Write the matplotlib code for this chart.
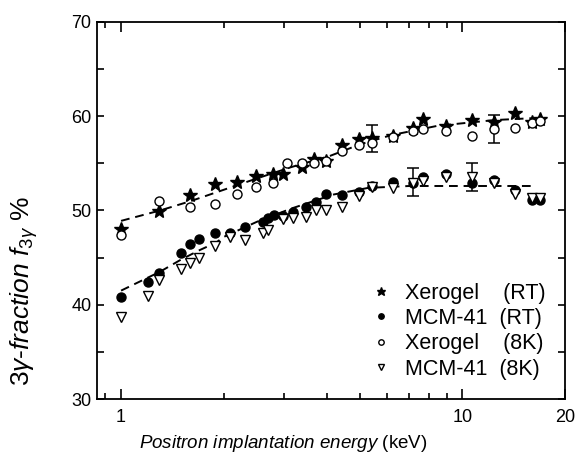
import numpy as np
import matplotlib
matplotlib.use('Agg')
import matplotlib.pyplot as plt

plt.rcParams['font.family'] = ['Liberation Sans', 'DejaVu Sans']
plt.rcParams['mathtext.fontset'] = 'custom'
plt.rcParams['mathtext.rm'] = 'Liberation Sans'
plt.rcParams['mathtext.it'] = 'Liberation Sans:italic'
plt.rcParams['mathtext.bf'] = 'Liberation Sans:bold'

# Xerogel (RT) - stars
xero_rt_x = [1.0, 1.295, 1.595, 1.888, 2.19, 2.48, 2.78, 2.99, 3.38, 3.68, 3.98,
             4.45, 4.99, 5.45, 6.26, 7.18, 7.67, 8.94, 10.7, 12.4, 14.3, 16.0, 16.9]
xero_rt_y = [48.0, 49.9, 51.6, 52.8, 53.0, 53.7, 53.9, 53.9, 54.6, 55.5, 55.2,
             56.9, 57.6, 57.7, 57.9, 58.8, 59.7, 59.0, 59.6, 59.4, 60.3, 59.4, 59.7]

# Xerogel (8K) - open circles
xero_8k_x = [1.0, 1.295, 1.595, 1.888, 2.19, 2.48, 2.78, 3.07, 3.38, 3.68, 3.98,
             4.45, 4.99, 5.45, 6.26, 7.18, 7.67, 8.94, 10.7, 12.4, 14.3, 16.0, 16.9]
xero_8k_y = [47.4, 51.0, 50.4, 50.7, 51.8, 52.5, 52.95, 55.0, 55.0, 55.0, 55.2,
             56.3, 56.9, 57.2, 57.8, 58.4, 58.6, 58.4, 57.9, 58.6, 58.8, 59.3, 59.5]

# MCM-41 (RT) - filled circles
mcm_rt_x = [1.0, 1.197, 1.295, 1.50, 1.595, 1.695, 1.888, 2.09, 2.30, 2.60, 2.69,
            2.80, 2.99, 3.18, 3.48, 3.72, 3.98, 4.45, 4.99, 5.45, 6.26, 7.18, 7.67,
            8.94, 10.7, 12.4, 14.3, 16.0, 16.9]
mcm_rt_y = [40.8, 42.4, 43.4, 45.5, 46.4, 47.0, 47.6, 47.6, 48.2, 48.8, 49.2,
            49.5, 49.4, 49.8, 50.4, 50.9, 51.8, 51.6, 52.0, 52.6, 53.0, 52.95, 53.6,
            53.9, 52.9, 53.2, 52.2, 51.1, 51.1]

# MCM-41 (8K) - open triangles
mcm_8k_x = [1.0, 1.197, 1.295, 1.50, 1.595, 1.695, 1.888, 2.09, 2.30, 2.60, 2.69,
            2.99, 3.18, 3.48, 3.72, 3.98, 4.45, 4.99, 5.45, 6.26, 7.18, 7.67,
            8.94, 10.7, 12.4, 14.3, 16.0, 16.9]
mcm_8k_y = [38.7, 40.9, 42.6, 43.8, 44.4, 45.0, 46.2, 47.2, 46.9, 47.6, 47.9,
            49.1, 49.2, 49.3, 50.05, 50.1, 50.4, 51.5, 52.5, 52.4, 52.9, 53.1,
            53.6, 53.6, 52.9, 51.8, 51.3, 51.3]

# error bars (x, centre, half-height)
err_x = [5.45, 12.4, 7.18, 10.7]
err_y = [57.65, 58.65, 53.0, 53.55]
err_h = [1.45, 1.45, 1.5, 1.5]

# dashed fit curves
fit_up_x = [1.0, 1.3, 1.6, 2.0, 2.5, 3.15, 4.1, 5.0, 6.2, 8.5, 12.5, 17.2]
fit_up_y = [48.9, 50.0, 51.0, 52.2, 53.4, 54.6, 55.8, 57.0, 58.0, 59.0, 59.6, 59.85]
fit_lo_x = [1.0, 1.3, 1.5, 1.7, 1.9, 2.0, 2.5, 3.15, 4.2, 5.3, 7.0, 10.0, 16.4]
fit_lo_y = [41.5, 43.5, 44.8, 45.8, 46.6, 47.2, 48.8, 50.2, 51.7, 52.4, 52.6, 52.6, 52.6]

fig = plt.figure(figsize=(5.79, 4.66), dpi=100)
ax = fig.add_axes([97/579, 67/466, 468/579, 377/466])

ax.plot(fit_up_x, fit_up_y, ls=(0, (4.5, 3)), color='black', lw=1.4, zorder=1)
ax.plot(fit_lo_x, fit_lo_y, ls=(0, (4.5, 3)), color='black', lw=1.4, zorder=1)

ax.errorbar(err_x, err_y, yerr=err_h, fmt='none', ecolor='black', elinewidth=1.1,
            capsize=4, capthick=1.1, zorder=2)

ax.plot(xero_rt_x, xero_rt_y, '*', color='black', ms=10.5, ls='none', label='Xerogel    (RT)', zorder=3)
ax.plot(mcm_rt_x, mcm_rt_y, 'o', color='black', ms=6.5, ls='none', label='MCM-41  (RT)', zorder=3)
ax.plot(xero_8k_x, xero_8k_y, 'o', mfc='white', mec='black', mew=1.0, ms=6.5, ls='none',
        label='Xerogel    (8K)', zorder=3)
ax.plot(mcm_8k_x, mcm_8k_y, 'v', mfc='white', mec='black', mew=1.0, ms=7.5, ls='none',
        label='MCM-41  (8K)', zorder=3)

ax.set_xscale('log')
ax.set_xlim(0.85, 20)
ax.set_ylim(30, 70)
ax.set_xticks([1, 10, 20])
ax.set_xticklabels(['1', '10', '20'])
ax.set_xticks([0.9, 2, 3, 4, 5, 6, 7, 8, 9], minor=True)
ax.set_xticklabels([], minor=True)
ax.set_yticks([30, 40, 50, 60, 70])
ax.set_yticks([35, 45, 55, 65], minor=True)

ax.tick_params(axis='both', which='both', direction='in', top=True, right=True,
               labelsize=13, width=1.2)
ax.tick_params(axis='x', which='major', length=7, pad=7)
ax.tick_params(axis='x', which='minor', length=4.5)
ax.tick_params(axis='y', which='both', length=5, pad=4)
for s in ax.spines.values():
    s.set_linewidth(1.3)

leg = ax.legend(loc='lower right', bbox_to_anchor=(1.0, 0.0), frameon=False,
                fontsize=15.5, markerscale=0.6, handletextpad=0.5,
                labelspacing=0.2, handlelength=1.2)

fig.text(283/579, 22/466, r'$\it{Positron\ implantation\ energy}$ (keV)',
         ha='center', va='center', fontsize=13.5)
fig.text(24/579, 175/466, r'3$\gamma$-$\it{fraction}$ $f_{3\gamma}$ %',
         ha='center', va='center', rotation=90, fontsize=19)

fig.savefig('out.png', dpi=100)
